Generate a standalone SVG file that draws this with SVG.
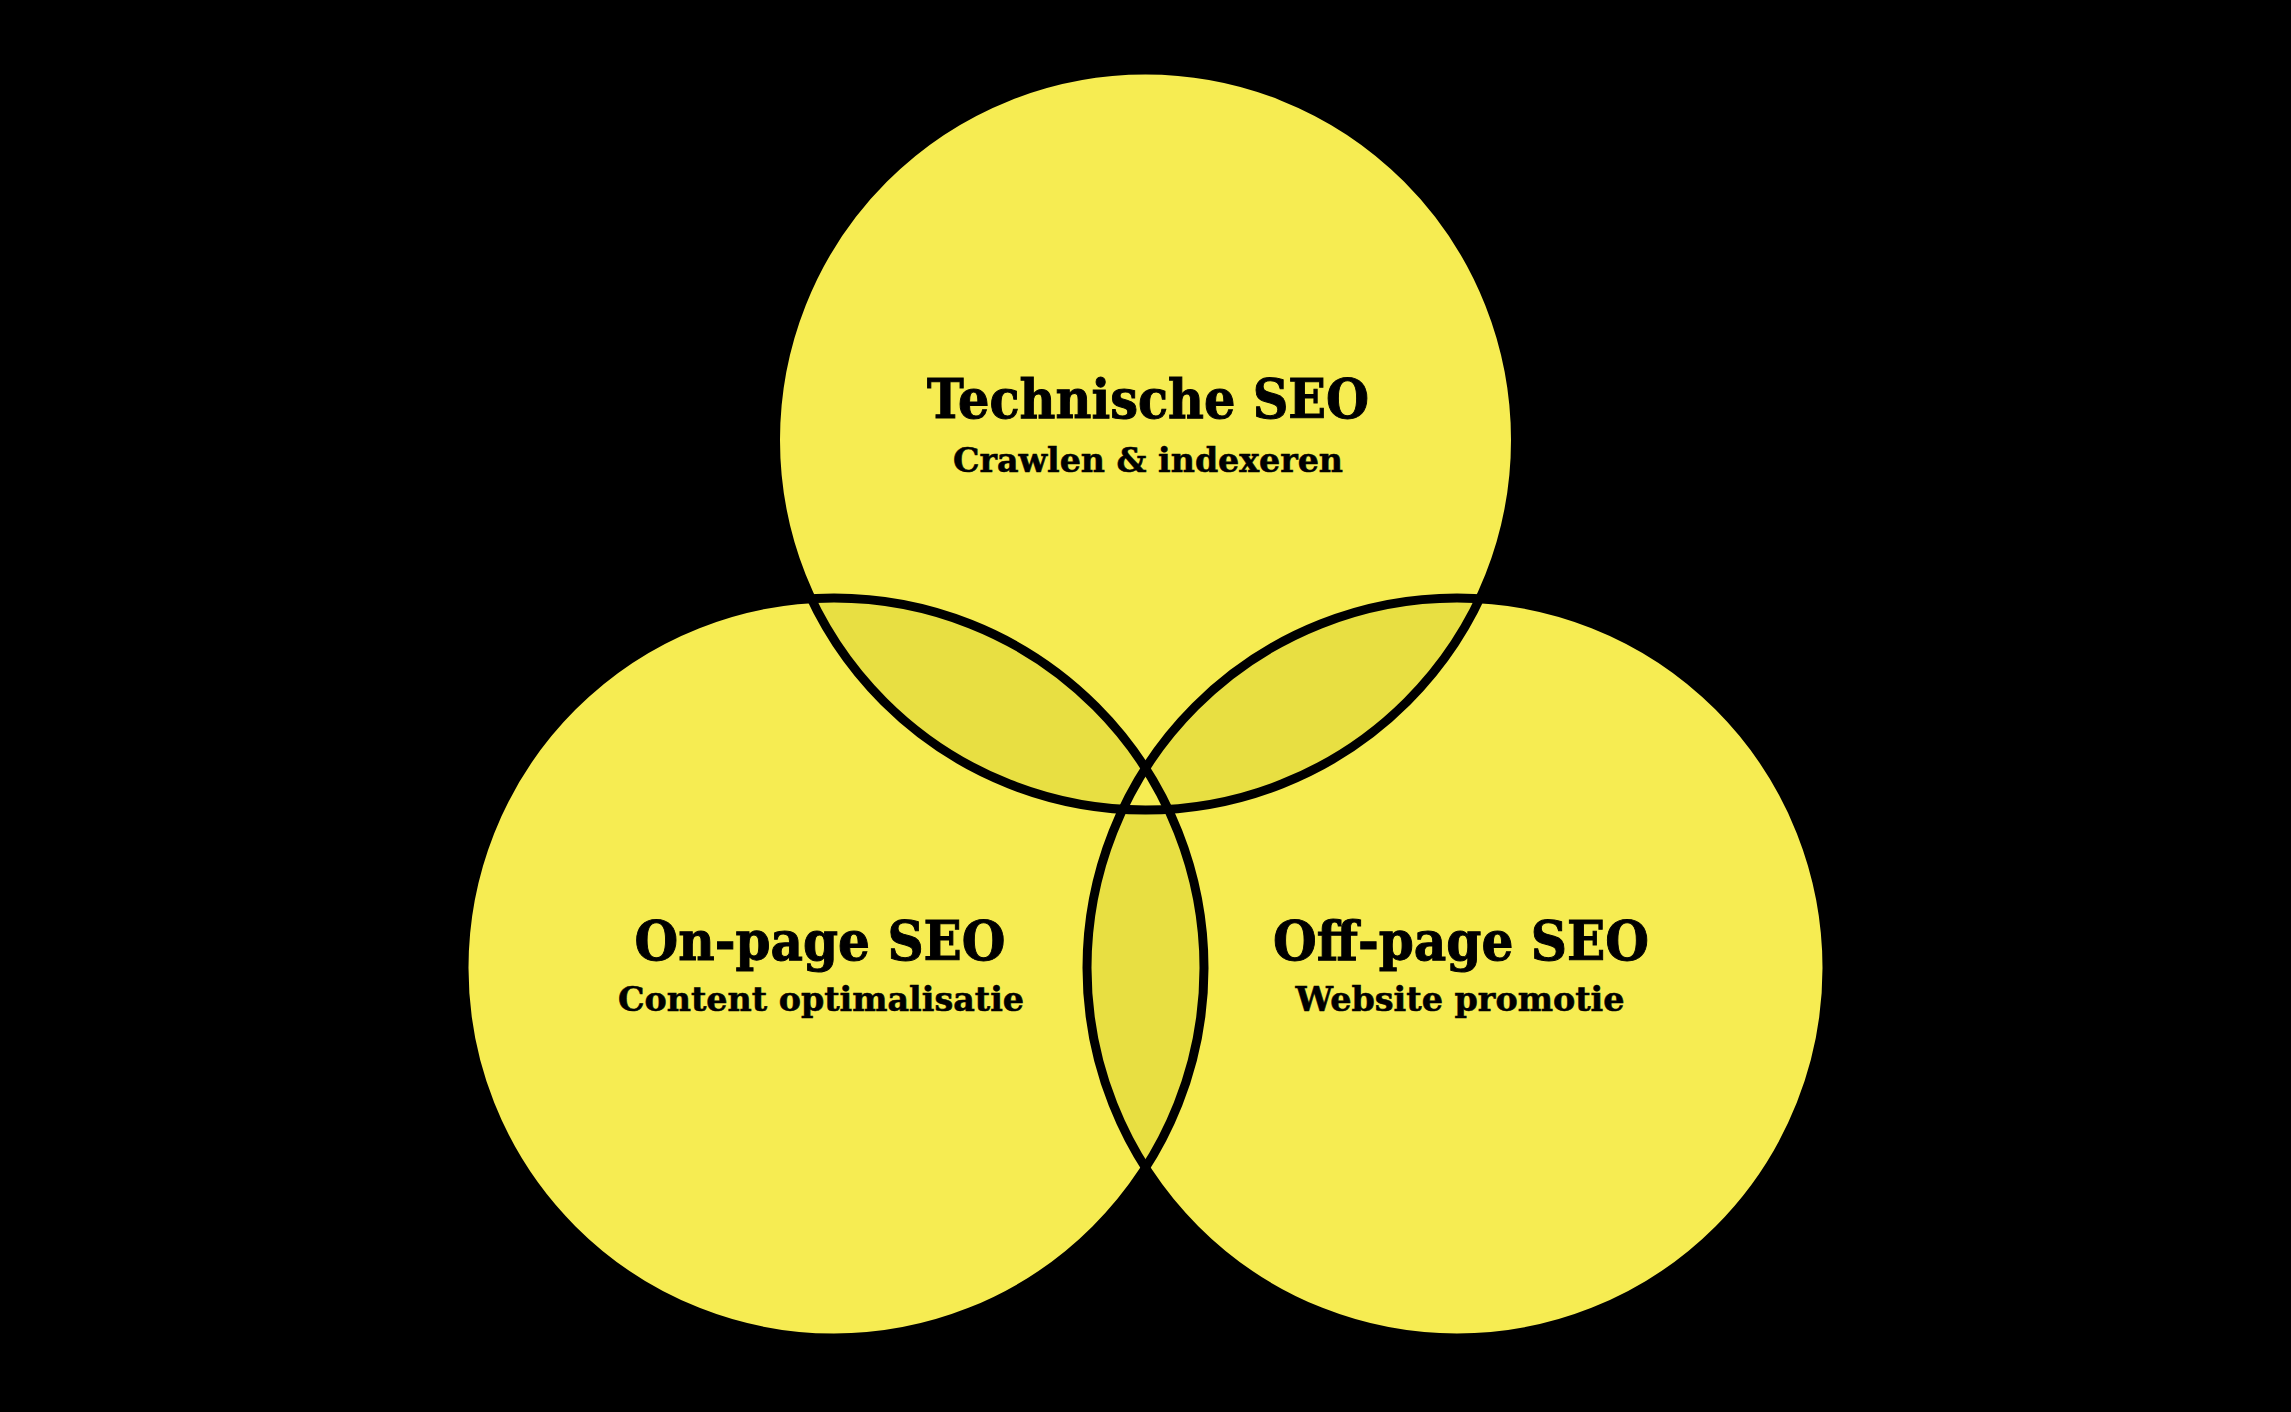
<svg xmlns="http://www.w3.org/2000/svg" width="2291" height="1412" viewBox="0 0 2291 1412">
  <style>
    .fill { fill: #F6EC52; }
    .lens { fill: #E8DF42; }
    .ring { fill: none; stroke: #000000; stroke-width: 9; }
    .title { font-family: "DejaVu Serif", "Liberation Serif", serif; font-weight: bold; font-size: 54px; fill: #000000; stroke: #000000; stroke-width: 1; text-anchor: middle; }
    .sub { font-family: "DejaVu Serif", "Liberation Serif", serif; font-weight: bold; font-size: 34px; fill: #000000; stroke: #000000; stroke-width: 0.6; text-anchor: middle; }
  </style>
  <defs>
    <clipPath id="cT"><circle cx="1145.5" cy="440" r="370"/></clipPath>
    <clipPath id="cL"><circle cx="834" cy="968" r="370"/></clipPath>
    <clipPath id="cR"><circle cx="1457" cy="968" r="370"/></clipPath>
  </defs>
  <rect x="0" y="0" width="2291" height="1412" fill="#000000"/>

  <g id="node-technische-seo">
    <circle class="fill" cx="1145.5" cy="440" r="370"/>
  </g>
  <g id="node-on-page-seo">
    <circle class="fill" cx="834" cy="968" r="370"/>
  </g>
  <g id="node-off-page-seo">
    <circle class="fill" cx="1457" cy="968" r="370"/>
  </g>

  <g id="overlaps">
    <g clip-path="url(#cT)">
      <circle class="lens" cx="834" cy="968" r="370"/>
      <circle class="lens" cx="1457" cy="968" r="370"/>
    </g>
    <g clip-path="url(#cL)">
      <circle class="lens" cx="1457" cy="968" r="370"/>
    </g>
    <g clip-path="url(#cT)">
      <g clip-path="url(#cL)">
        <circle class="fill" cx="1457" cy="968" r="370"/>
      </g>
    </g>
  </g>

  <g id="connectors">
    <circle class="ring" cx="1145.5" cy="440" r="370"/>
    <circle class="ring" cx="834" cy="968" r="370"/>
    <circle class="ring" cx="1457" cy="968" r="370"/>
  </g>

  <g id="label-technische-seo">
    <text class="title" x="1148" y="418" textLength="442" lengthAdjust="spacingAndGlyphs">Technische SEO</text>
    <text class="sub" x="1148" y="472" textLength="390" lengthAdjust="spacingAndGlyphs">Crawlen &amp; indexeren</text>
  </g>
  <g id="label-on-page-seo">
    <text class="title" x="820" y="960" textLength="371" lengthAdjust="spacingAndGlyphs">On-page SEO</text>
    <text class="sub" x="821" y="1011" textLength="406" lengthAdjust="spacingAndGlyphs">Content optimalisatie</text>
  </g>
  <g id="label-off-page-seo">
    <text class="title" x="1461" y="960" textLength="376" lengthAdjust="spacingAndGlyphs">Off-page SEO</text>
    <text class="sub" x="1460" y="1011" textLength="329" lengthAdjust="spacingAndGlyphs">Website promotie</text>
  </g>
</svg>
